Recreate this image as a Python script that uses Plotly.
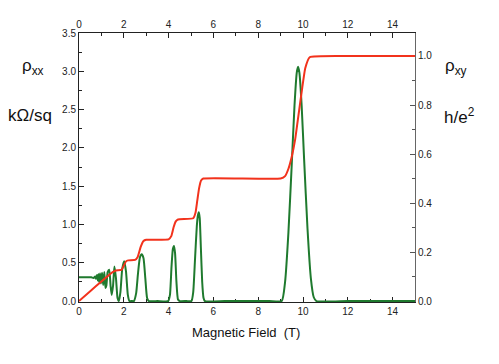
import plotly.graph_objects as go

# Magnetic field (T) and longitudinal resistivity rho_xx (kOhm/sq)
b_xx = [0.0, 0.2, 0.4, 0.55, 0.65, 0.72, 0.76, 0.80, 0.84, 0.87, 0.90, 0.94, 0.98,
        1.03, 1.08, 1.13, 1.18, 1.22, 1.28, 1.35, 1.41, 1.46, 1.52, 1.58, 1.65, 1.72,
        1.78, 1.85, 1.93, 2.02, 2.10, 2.18, 2.25, 2.35, 2.45, 2.55, 2.63, 2.72, 2.80,
        2.88, 2.96, 3.04, 3.12, 3.5, 3.98, 4.06, 4.13, 4.19, 4.24, 4.29, 4.35, 4.42,
        4.5, 4.8, 5.02, 5.1, 5.18, 5.26, 5.31, 5.35, 5.39, 5.44, 5.50, 5.56, 5.62,
        6.5, 7.5, 8.5, 9.05, 9.2, 9.35, 9.5, 9.62, 9.72, 9.78, 9.84, 9.94, 10.05,
        10.2, 10.35, 10.48, 10.6, 12.0, 13.5, 15.0]
rho_xx = [0.31, 0.31, 0.31, 0.31, 0.30, 0.32, 0.29, 0.34, 0.27, 0.35, 0.25, 0.36, 0.23,
          0.37, 0.21, 0.38, 0.17, 0.20, 0.38, 0.41, 0.20, 0.08, 0.20, 0.45, 0.30, 0.04,
          0.0, 0.12, 0.42, 0.52, 0.38, 0.08, 0.0, 0.0, 0.0, 0.10, 0.35, 0.57, 0.61,
          0.56, 0.30, 0.04, 0.0, 0.0, 0.0, 0.08, 0.45, 0.68, 0.72, 0.62, 0.25, 0.02,
          0.0, 0.0, 0.0, 0.12, 0.55, 0.98, 1.12, 1.16, 1.08, 0.70, 0.25, 0.04, 0.0,
          0.0, 0.0, 0.0, 0.0, 0.25, 0.90, 1.80, 2.55, 2.98, 3.06, 2.98, 2.55, 1.85,
          0.95, 0.30, 0.05, 0.0, 0.0, 0.0, 0.0]

# Magnetic field (T) and Hall resistivity rho_xy (h/e^2)
b_xy = [0.0, 0.5, 1.0, 1.5, 1.65, 1.9, 2.0, 2.1, 2.2, 2.5, 2.62, 2.75, 2.88, 3.0,
        4.0, 4.12, 4.22, 4.32, 4.42, 5.1, 5.2, 5.28, 5.36, 5.45, 5.55, 9.0, 9.2,
        9.35, 9.5, 9.65, 9.8, 9.95, 10.1, 10.3, 12.0, 15.0]
rho_xy = [0.0, 0.04, 0.08, 0.118, 0.125, 0.127, 0.145, 0.162, 0.166, 0.168, 0.18,
          0.22, 0.245, 0.25, 0.252, 0.265, 0.30, 0.325, 0.333, 0.338, 0.36, 0.41,
          0.46, 0.492, 0.5, 0.5, 0.51, 0.54, 0.59, 0.66, 0.76, 0.86, 0.95, 0.995,
          1.0, 1.0]

x_ticks = [0, 2, 4, 6, 8, 10, 12, 14]
y_ticks = [0.0, 0.5, 1.0, 1.5, 2.0, 2.5, 3.0, 3.5]
y2_ticks = [0.0, 0.2, 0.4, 0.6, 0.8, 1.0]

GREEN = "#1f7a2e"
RED = "#f2321c"
FONT = "Liberation Sans, Arial, sans-serif"

OFF = 8  # page body margin
W, H = 499 - OFF, 364 - OFF
L, R, T, B = 79 - OFF, 415 - OFF, 33 - OFF, 302 - OFF  # plot area in figure pixels

Y_LO = -0.012          # tiny headroom so the zero baseline is not clipped
RATIO = 3.2            # rho_xx units per h/e^2 on the shared scale

fig = go.Figure()
fig.add_trace(go.Scatter(x=b_xx, y=rho_xx, mode="lines",
                         line=dict(color=GREEN, width=2, shape="spline", smoothing=0.5),
                         xaxis="x", yaxis="y", showlegend=False))
fig.add_trace(go.Scatter(x=b_xy, y=rho_xy, mode="lines",
                         line=dict(color=RED, width=2, shape="spline", smoothing=0.4),
                         xaxis="x2", yaxis="y2", showlegend=False))

tickfont = dict(family=FONT, size=10, color="#222")
common_x = dict(range=[0, 15], tickvals=x_ticks, ticktext=[str(v) for v in x_ticks],
                ticks="inside", ticklen=5, tickcolor="#222", showgrid=False,
                zeroline=False, showline=True, linecolor="#222", linewidth=1,
                tickfont=tickfont, automargin=False, layer="below traces",
                minor=dict(ticks="inside", dtick=1, ticklen=3, tickcolor="#222", showgrid=False))

fig.update_layout(
    width=W, height=H,
    margin=dict(l=L, r=W - R, t=T, b=H - B),
    paper_bgcolor="white", plot_bgcolor="white",
    xaxis=dict(**common_x, side="bottom"),
    xaxis2=dict(**common_x, side="top", overlaying="x", anchor="y2"),
    yaxis=dict(range=[Y_LO, 3.5], tickvals=y_ticks, ticktext=[f"{v:.1f}" for v in y_ticks],
               ticks="inside", ticklen=5, tickcolor="#222", showgrid=False, zeroline=False,
               showline=True, linecolor="#222", linewidth=1, tickfont=tickfont, automargin=False,
               layer="below traces",
               minor=dict(ticks="inside", dtick=0.25, ticklen=3, tickcolor="#222", showgrid=False)),
    yaxis2=dict(range=[Y_LO / RATIO, 3.5 / RATIO], tickvals=y2_ticks,
                ticktext=[f"{v:.1f}" for v in y2_ticks],
                side="right", overlaying="y", anchor="x2", automargin=False,
                ticks="inside", ticklen=5, tickcolor="#555", showgrid=False, zeroline=False,
                showline=True, linecolor="#666", linewidth=1, tickfont=tickfont,
                layer="below traces",
                minor=dict(ticks="inside", dtick=0.1, ticklen=3, tickcolor="#555", showgrid=False)),
)

big = dict(family=FONT, size=17, color="#111")
ann = [
    dict(text="ρ<sub>xx</sub>", x=33, y=67, font=big),
    dict(text="kΩ/sq", x=30, y=115, font=big),
    dict(text="ρ<sub>xy</sub>", x=456, y=67, font=big),
    dict(text="h/e<sup>2</sup>", x=459, y=116, font=big),
    dict(text="Magnetic Field  (T)", x=246, y=332, font=dict(family=FONT, size=13, color="#111")),
]
for a in ann:
    px, py = a["x"] - OFF, a["y"] - OFF
    fig.add_annotation(text=a["text"], x=(px - L) / (R - L), y=(B - py) / (B - T),
                       xref="paper", yref="paper", xanchor="center", yanchor="middle",
                       showarrow=False, font=a["font"])

fig.write_html("out.html")
